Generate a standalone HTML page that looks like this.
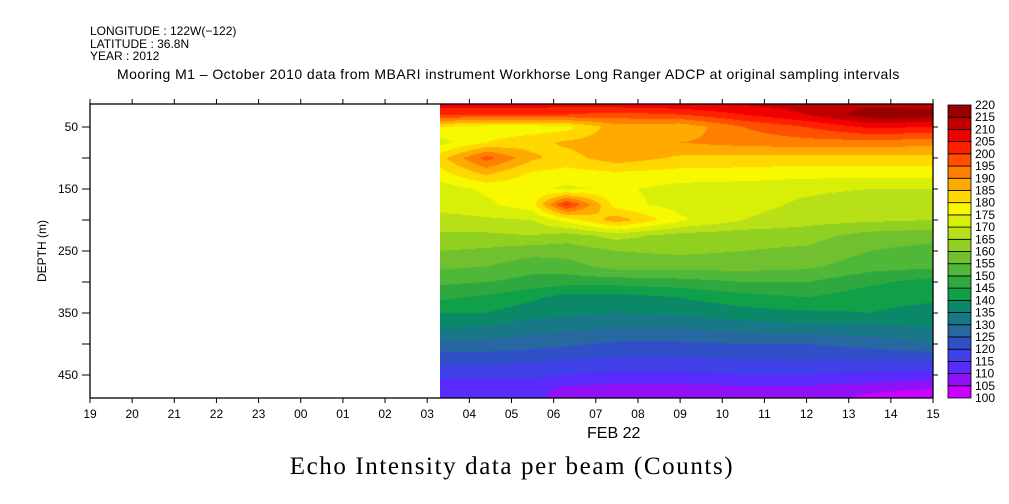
<!DOCTYPE html>
<html><head><meta charset="utf-8"><style>
body{margin:0;background:#fff;width:1009px;height:504px;overflow:hidden;position:relative;font-family:"Liberation Sans",sans-serif}
.t{position:absolute;white-space:nowrap;color:#000}
</style></head><body>
<div class="t" style="left:90px;top:24px;font-size:12px">LONGITUDE : 122W(−122)</div>
<div class="t" style="left:90px;top:37px;font-size:12px">LATITUDE : 36.8N</div>
<div class="t" style="left:90px;top:49px;font-size:12px">YEAR : 2012</div>
<div class="t" style="left:117px;top:66px;font-size:14px;letter-spacing:0.45px">Mooring M1 – October 2010 data from MBARI instrument Workhorse Long Ranger ADCP at original sampling intervals</div>
<div class="t" style="left:587px;top:425px;font-size:16px">FEB 22</div>
<div class="t" style="left:0;width:1024px;text-align:center;top:453px;font-size:25px;letter-spacing:1.6px;font-family:'Liberation Serif',serif">Echo Intensity data per beam (Counts)</div>
<canvas id="cv" width="493" height="294" style="position:absolute;left:440px;top:104px"></canvas>
<svg id="sv" width="1009" height="504" style="position:absolute;left:0;top:0"></svg>
<script>
const times=[3.3,4.4,5.5,6.3,7.5,9,10.5,12,13.5,15];
const depths=[15,30,50,75,100,125,150,175,200,225,250,275,300,325,350,375,400,425,450,475,490];
const values=[
[207,207,207,206,207,208,210,212,214,213],
[200,200,200,200,198,200,205,210,218,218],
[180,177,177,178,188,186,195,200,206,205],
[173,180,183,186,188,190,192,193,193,192],
[183,197,186,183,188,184,183,183,183,183],
[178,186,179,178,179,178,178,177,177,177],
[172,176,176,174,176,173,172,171,170,170],
[172,174,178,202,177,173,172,169,167,168],
[168,169,170,177,188,176,170,167,166,165],
[164,164,165,163,167,163,162,162,158,157],
[160,159,157,157,160,161,160,159,155,153],
[156,155,152,153,157,157,157,156,152,151],
[151,150,148,147,147,148,150,150,146,143],
[146,144,141,138,138,140,143,145,142,141],
[140,140,137,136,135,136,138,139,140,138],
[135,134,132,131,130,130,132,133,133,135],
[128,128,127,126,124,124,125,125,127,130],
[122,122,121,120,119,119,120,120,120,120],
[116,116,116,115,114,114,115,115,114,113],
[112,112,112,108,107,107,108,108,106,104],
[113,113,112,107,106,106,107,107,103,101]];
const levels=[100,105,110,115,120,125,130,135,140,145,150,155,160,165,170,175,180,185,190,195,200,205,210,215,220];
const colors=['#cc00ff','#9010f8','#5a2afc','#4040e8','#3050c8','#2868a0','#187888','#0a8868','#10a048','#30a840','#50b838','#70c030','#90d020','#b8e018','#d8f008','#f8f800','#ffd800','#ffaa00','#ff8000','#ff5000','#ff2000','#f00000','#c00000','#980000'];
const xTicks=['19','20','21','22','23','00','01','02','03','04','05','06','07','08','09','10','11','12','13','14','15'];
const yTicks=[50,150,250,350,450];
const X0=90,X1=933,Y0=104,Y1=398;
const xs=h=>X0+(X1-X0)*h/20;
const ys=d=>96+0.62*d;
const dFromY=y=>(y-96)/0.62;
const hFromX=x=>(x-X0)*20/(X1-X0)-5;
function interp(arr,v){let i=0;while(i<arr.length-2&&v>arr[i+1])i++;let f=(v-arr[i])/(arr[i+1]-arr[i]);return [i,Math.max(0,Math.min(1,f))];}
function hex(c){return [parseInt(c.substr(1,2),16),parseInt(c.substr(3,2),16),parseInt(c.substr(5,2),16)];}
const rgb=colors.map(hex);
const cv=document.getElementById('cv'),ctx=cv.getContext('2d');
const img=ctx.createImageData(cv.width,cv.height);
for(let py=0;py<cv.height;py++){
  const d=dFromY(Y0+py+0.5);const [j,fy]=interp(depths,d);
  for(let px=0;px<cv.width;px++){
    const h=hFromX(440+px+0.5);const [i,fx]=interp(times,h);
    const v=(values[j][i]*(1-fx)+values[j][i+1]*fx)*(1-fy)+(values[j+1][i]*(1-fx)+values[j+1][i+1]*fx)*fy;
    let k=Math.floor((v-100)/5);k=Math.max(0,Math.min(23,k));
    const c=rgb[k],o=(py*cv.width+px)*4;
    img.data[o]=c[0];img.data[o+1]=c[1];img.data[o+2]=c[2];img.data[o+3]=255;
  }
}
ctx.putImageData(img,0,0);
const NS='http://www.w3.org/2000/svg',sv=document.getElementById('sv');
function el(t,a,txt){const e=document.createElementNS(NS,t);for(const k in a)e.setAttribute(k,a[k]);if(txt!==undefined)e.textContent=txt;sv.appendChild(e);return e;}
const fr=el('rect',{x:X0,y:Y0,width:X1-X0,height:Y1-Y0,fill:'none',stroke:'#000','stroke-width':1.3});


xTicks.forEach((t,i)=>{const x=xs(i);
  el('line',{x1:x,x2:x,y1:Y1,y2:Y1+5,stroke:'#000'});
  el('line',{x1:x,x2:x,y1:Y0,y2:Y0-5,stroke:'#000'});
  const tx=el('text',{x:x,y:Y1+20,'text-anchor':'middle','font-size':12,'font-family':'Liberation Sans'},t);
  
  
});
for(let d=50;d<=450;d+=50){const y=ys(d);
  el('line',{x1:X0-8,x2:X0,y1:y,y2:y,stroke:'#000'});
  el('line',{x1:X1,x2:X1+5,y1:y,y2:y,stroke:'#000'});}
yTicks.forEach(d=>{const tx=el('text',{x:X0-12,y:ys(d)+4,'text-anchor':'end','font-size':12,'font-family':'Liberation Sans'},String(d));
  
  });
const yt=el('text',{x:46,y:251,'text-anchor':'middle','font-size':12,'font-family':'Liberation Sans',transform:'rotate(-90 46 251)'},'DEPTH (m)');


const CB0=105,CB1=398,bh=(CB1-CB0)/colors.length;
colors.forEach((c,k)=>{const y=CB1-(k+1)*bh;
  const r=el('rect',{x:948,y:y,width:23,height:bh,fill:c,stroke:'#000','stroke-width':0.8});
  
  });
levels.forEach((l,k)=>{const y=CB1-k*bh;
  const tx=el('text',{x:975,y:y+4,'font-size':12,'font-family':'Liberation Sans'},String(l));
  
  });
</script>
</body></html>
